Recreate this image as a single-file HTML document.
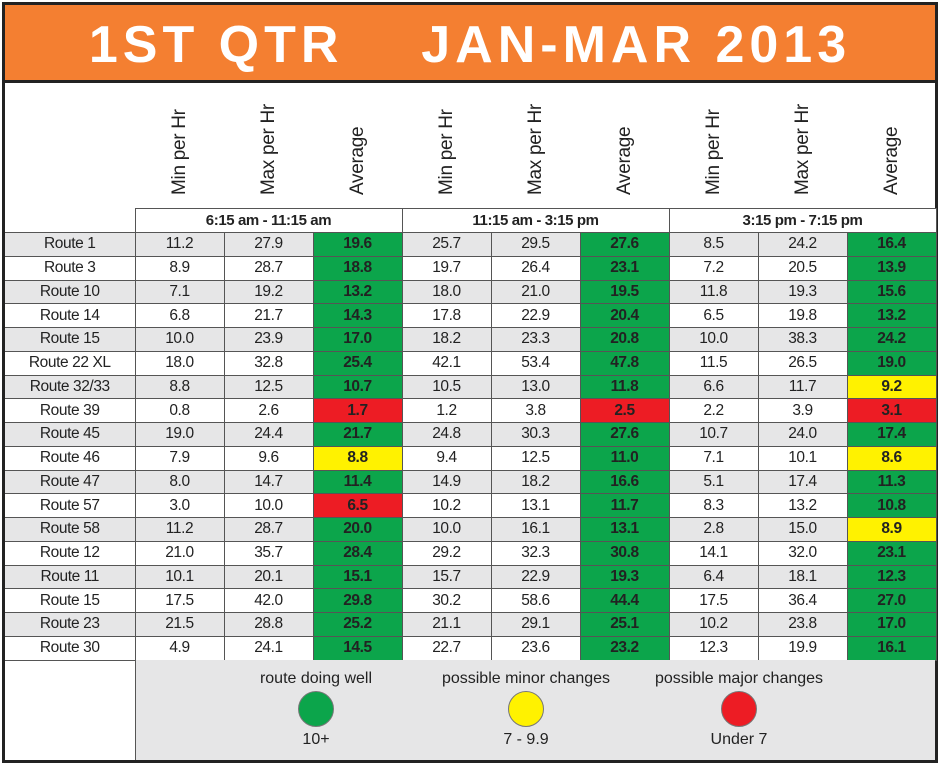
<!DOCTYPE html>
<html><head><meta charset="utf-8"><style>
*{margin:0;padding:0;box-sizing:border-box}
body{width:940px;height:768px;background:#fff;position:relative;overflow:hidden;font-family:"Liberation Sans Narrow","Liberation Sans",sans-serif}
#frame{position:absolute;left:2px;top:2px;width:936px;height:761px;border:3px solid #222;}
#title{position:absolute;left:5px;top:5px;width:930px;height:78px;background:#f47f31;border-bottom:3px solid #222;color:#fff;font-family:"Liberation Sans",sans-serif;font-weight:bold;font-size:52px;letter-spacing:5px;text-align:center;line-height:80px;white-space:pre}
.vh{position:absolute;top:95px;height:100px;width:89px}
.vh span{position:absolute;left:50%;bottom:0;transform-origin:0 100%;transform:rotate(-90deg) translateY(50%);white-space:nowrap;font-size:19px;color:#222;letter-spacing:-0.3px}
table{position:absolute;left:5px;top:208px;border-collapse:collapse;table-layout:fixed}
td{border:1.5px solid #555;height:23.75px;text-align:center;font-size:15.5px;color:#222;padding:0;line-height:20px;letter-spacing:-0.4px}
td.l{border-left:none}
tr.g td{background:#e6e6e7}
tr.hd td{background:#fff;font-weight:bold;font-size:15px;height:24px}
tr.hd td.e{border:none;border-bottom:1.5px solid #555;background:#fff}
td.G{background:#0ca54b!important;font-weight:bold}
td.Y{background:#fff200!important;font-weight:bold}
td.R{background:#ed1c24!important;font-weight:bold}
#leg{position:absolute;left:135px;top:660px;width:800px;height:100px;background:#e6e6e7;border-left:1.5px solid #555}
.li{position:absolute;top:10px;width:220px;text-align:center;font-size:16px;color:#222}
.li .c{width:36px;height:36px;border-radius:50%;margin:3px auto 4px;border:1.5px solid #777}
</style></head><body>
<div id="frame"></div>
<div id="title">1ST QTR    JAN-MAR 2013</div>
<div class="vh" style="left:135px"><span>Min per Hr</span></div>
<div class="vh" style="left:224px"><span>Max per Hr</span></div>
<div class="vh" style="left:313px"><span>Average</span></div>
<div class="vh" style="left:402px"><span>Min per Hr</span></div>
<div class="vh" style="left:491px"><span>Max per Hr</span></div>
<div class="vh" style="left:580px"><span>Average</span></div>
<div class="vh" style="left:669px"><span>Min per Hr</span></div>
<div class="vh" style="left:758px"><span>Max per Hr</span></div>
<div class="vh" style="left:847px"><span>Average</span></div>
<table>
<colgroup><col style="width:130px"><col style="width:89px"><col style="width:89px"><col style="width:89px"><col style="width:89px"><col style="width:89px"><col style="width:89px"><col style="width:89px"><col style="width:89px"><col style="width:89px"></colgroup>
<tr class="hd"><td class="e"></td><td colspan="3">6:15 am - 11:15 am</td><td colspan="3">11:15 am - 3:15 pm</td><td colspan="3">3:15 pm - 7:15 pm</td></tr>
<tr class="g"><td class="l">Route 1</td><td>11.2</td><td>27.9</td><td class="G">19.6</td><td>25.7</td><td>29.5</td><td class="G">27.6</td><td>8.5</td><td>24.2</td><td class="G">16.4</td></tr>
<tr><td class="l">Route 3</td><td>8.9</td><td>28.7</td><td class="G">18.8</td><td>19.7</td><td>26.4</td><td class="G">23.1</td><td>7.2</td><td>20.5</td><td class="G">13.9</td></tr>
<tr class="g"><td class="l">Route 10</td><td>7.1</td><td>19.2</td><td class="G">13.2</td><td>18.0</td><td>21.0</td><td class="G">19.5</td><td>11.8</td><td>19.3</td><td class="G">15.6</td></tr>
<tr><td class="l">Route 14</td><td>6.8</td><td>21.7</td><td class="G">14.3</td><td>17.8</td><td>22.9</td><td class="G">20.4</td><td>6.5</td><td>19.8</td><td class="G">13.2</td></tr>
<tr class="g"><td class="l">Route 15</td><td>10.0</td><td>23.9</td><td class="G">17.0</td><td>18.2</td><td>23.3</td><td class="G">20.8</td><td>10.0</td><td>38.3</td><td class="G">24.2</td></tr>
<tr><td class="l">Route 22 XL</td><td>18.0</td><td>32.8</td><td class="G">25.4</td><td>42.1</td><td>53.4</td><td class="G">47.8</td><td>11.5</td><td>26.5</td><td class="G">19.0</td></tr>
<tr class="g"><td class="l">Route 32/33</td><td>8.8</td><td>12.5</td><td class="G">10.7</td><td>10.5</td><td>13.0</td><td class="G">11.8</td><td>6.6</td><td>11.7</td><td class="Y">9.2</td></tr>
<tr><td class="l">Route 39</td><td>0.8</td><td>2.6</td><td class="R">1.7</td><td>1.2</td><td>3.8</td><td class="R">2.5</td><td>2.2</td><td>3.9</td><td class="R">3.1</td></tr>
<tr class="g"><td class="l">Route 45</td><td>19.0</td><td>24.4</td><td class="G">21.7</td><td>24.8</td><td>30.3</td><td class="G">27.6</td><td>10.7</td><td>24.0</td><td class="G">17.4</td></tr>
<tr><td class="l">Route 46</td><td>7.9</td><td>9.6</td><td class="Y">8.8</td><td>9.4</td><td>12.5</td><td class="G">11.0</td><td>7.1</td><td>10.1</td><td class="Y">8.6</td></tr>
<tr class="g"><td class="l">Route 47</td><td>8.0</td><td>14.7</td><td class="G">11.4</td><td>14.9</td><td>18.2</td><td class="G">16.6</td><td>5.1</td><td>17.4</td><td class="G">11.3</td></tr>
<tr><td class="l">Route 57</td><td>3.0</td><td>10.0</td><td class="R">6.5</td><td>10.2</td><td>13.1</td><td class="G">11.7</td><td>8.3</td><td>13.2</td><td class="G">10.8</td></tr>
<tr class="g"><td class="l">Route 58</td><td>11.2</td><td>28.7</td><td class="G">20.0</td><td>10.0</td><td>16.1</td><td class="G">13.1</td><td>2.8</td><td>15.0</td><td class="Y">8.9</td></tr>
<tr><td class="l">Route 12</td><td>21.0</td><td>35.7</td><td class="G">28.4</td><td>29.2</td><td>32.3</td><td class="G">30.8</td><td>14.1</td><td>32.0</td><td class="G">23.1</td></tr>
<tr class="g"><td class="l">Route 11</td><td>10.1</td><td>20.1</td><td class="G">15.1</td><td>15.7</td><td>22.9</td><td class="G">19.3</td><td>6.4</td><td>18.1</td><td class="G">12.3</td></tr>
<tr><td class="l">Route 15</td><td>17.5</td><td>42.0</td><td class="G">29.8</td><td>30.2</td><td>58.6</td><td class="G">44.4</td><td>17.5</td><td>36.4</td><td class="G">27.0</td></tr>
<tr class="g"><td class="l">Route 23</td><td>21.5</td><td>28.8</td><td class="G">25.2</td><td>21.1</td><td>29.1</td><td class="G">25.1</td><td>10.2</td><td>23.8</td><td class="G">17.0</td></tr>
<tr><td class="l">Route 30</td><td>4.9</td><td>24.1</td><td class="G">14.5</td><td>22.7</td><td>23.6</td><td class="G">23.2</td><td>12.3</td><td>19.9</td><td class="G">16.1</td></tr>
</table>
<div id="leg">
<div class="li" style="left:70px">route doing well<div class="c" style="background:#0ca54b"></div>10+</div>
<div class="li" style="left:280px">possible minor changes<div class="c" style="background:#fff200"></div>7 - 9.9</div>
<div class="li" style="left:493px">possible major changes<div class="c" style="background:#ed1c24"></div>Under 7</div>
</div>
</body></html>
